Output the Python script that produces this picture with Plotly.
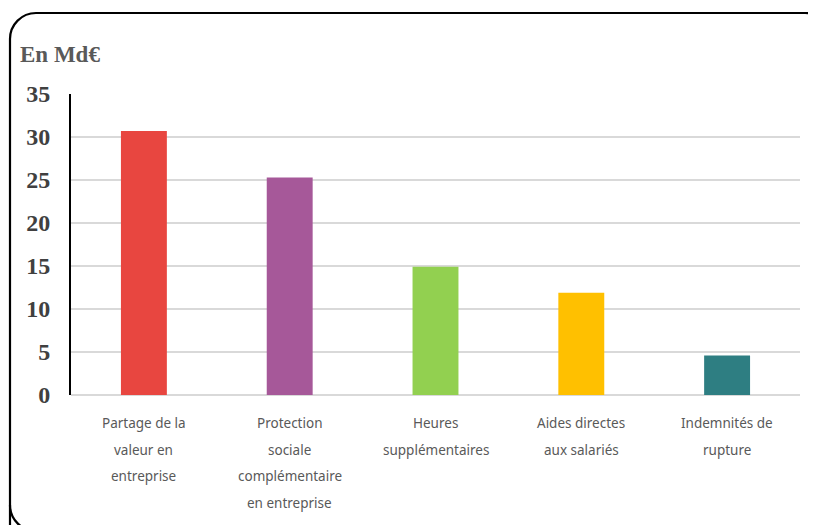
import plotly.graph_objects as go

categories = ["Partage de la valeur en entreprise",
              "Protection sociale complémentaire en entreprise",
              "Heures supplémentaires",
              "Aides directes aux salariés",
              "Indemnités de rupture"]
label_lines = [["Partage de la", "valeur en", "entreprise"],
               ["Protection", "sociale", "complémentaire", "en entreprise"],
               ["Heures", "supplémentaires"],
               ["Aides directes", "aux salariés"],
               ["Indemnités de", "rupture"]]
values = [30.7, 25.3, 14.9, 11.9, 4.6]
colors = ["#E84640", "#A65899", "#92D050", "#FFC000", "#2E7E82"]
y_ticks = [0, 5, 10, 15, 20, 25, 30, 35]

# page offset (browser body margin)
OFF = 8
W, H = 816 - OFF, 525 - OFF
PL, PR, PT, PB = 71, 800, 94, 395  # plot area in page pixels
L, R, T, B = PL - OFF, W - (PR - OFF), PT - OFF, H - (PB - OFF)
pw, ph = PR - PL, PB - PT

def px(x):
    return (x - PL) / pw

def py(y):
    return (PB - y) / ph

fig = go.Figure(go.Bar(x=categories, y=values, marker_color=colors,
                       marker_line_width=0, width=0.315))

# rounded frame (partially outside the page)
x0, y0, x1, y1, r = 10, 13, 831, 531, 26
k = 0.5523 * r
pts = [
    f"M {px(x0)},{py(y1)}",
    f"L {px(x0)},{py(y0 + r)}",
    f"C {px(x0)},{py(y0 + r - k)} {px(x0 + r - k)},{py(y0)} {px(x0 + r)},{py(y0)}",
    f"L {px(x1 - r)},{py(y0)}",
    f"C {px(x1 - r + k)},{py(y0)} {px(x1)},{py(y0 + r - k)} {px(x1)},{py(y0 + r)}",
]
fig.add_shape(type="path", xref="paper", yref="paper", path=" ".join(pts),
              line=dict(color="black", width=2.2), layer="above")
pts2 = [
    f"M {px(x0)},{py(y1 - r)}",
    f"C {px(x0)},{py(y1 - r + k)} {px(x0 + r - k)},{py(y1)} {px(x0 + r)},{py(y1)}",
]
fig.add_shape(type="path", xref="paper", yref="paper", path=" ".join(pts2),
              line=dict(color="black", width=2.2), layer="above")

fig.add_annotation(text="<b>En Md€</b>", xref="paper", yref="paper",
                   x=px(18), y=py(55), xanchor="left", yanchor="middle",
                   showarrow=False,
                   font=dict(family="Liberation Serif", size=23, color="#595959"))

# category labels, one line at a time
for cat, lines in zip(categories, label_lines):
    for i, line in enumerate(lines):
        fig.add_annotation(text=line, x=cat, xref="x", yref="paper",
                           y=py(423 + i * 26.5), yanchor="middle",
                           showarrow=False,
                           font=dict(family="Noto Sans", size=13.5, color="#595959"))

fig.update_layout(
    width=W, height=H,
    margin=dict(l=L, r=R, t=T, b=B),
    paper_bgcolor="white", plot_bgcolor="white",
    showlegend=False,
    xaxis=dict(showgrid=False, showline=False, ticks="", showticklabels=False),
    yaxis=dict(range=[0, 35], tickvals=y_ticks, showgrid=True,
               gridcolor="#D9D9D9", gridwidth=2,
               zeroline=True, zerolinecolor="#D9D9D9", zerolinewidth=2,
               showline=True, linecolor="black", linewidth=2,
               ticks="", ticklabelstandoff=14,
               tickfont=dict(family="Liberation Serif", size=24, color="#404040",
                             weight="bold")),
)

fig.write_html("out.html")
